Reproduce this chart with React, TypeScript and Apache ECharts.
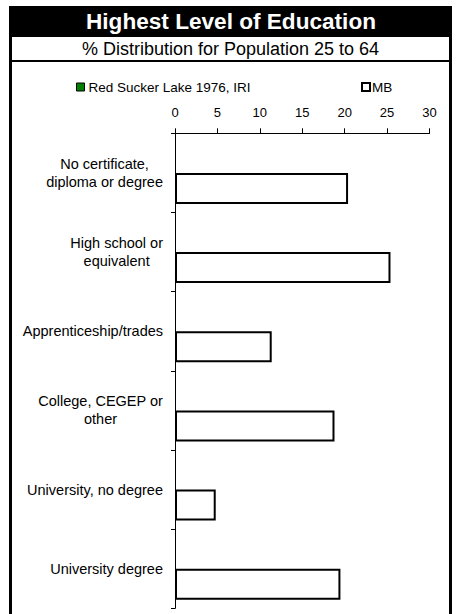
import React, { useEffect, useRef } from "react";
import * as echarts from "echarts";

const categories: string[] = [
  "No certificate,\ndiploma or degree",
  "High school or\nequivalent",
  "Apprenticeship/trades",
  "College, CEGEP or\nother",
  "University, no degree",
  "University degree",
];
const seriesNames: string[] = ["Red Sucker Lake 1976, IRI", "MB"];
const redSuckerValues: (number | null)[] = [null, null, null, null, null, null];
const mbValues: number[] = [20.4, 25.4, 11.4, 18.8, 4.8, 19.5];
const titleText = "Highest Level of Education";
const subtitleText = "% Distribution for Population 25 to 64";

const FONT = "'Liberation Sans', Arial, sans-serif";

export default function App() {
  const ref = useRef<HTMLDivElement>(null);
  useEffect(() => {
    if (!ref.current) return;
    const chart = echarts.init(ref.current, null, { renderer: "svg" });
    chart.setOption({
      animation: false,
      backgroundColor: "#ffffff",
      textStyle: { fontFamily: FONT },
      graphic: [
        { type: "rect", shape: { x: 9, y: 6, width: 443, height: 31 }, style: { fill: "#000" } },
        { type: "rect", shape: { x: 9, y: 37, width: 3, height: 577 }, style: { fill: "#000" } },
        { type: "rect", shape: { x: 449, y: 37, width: 3, height: 577 }, style: { fill: "#000" } },
        { type: "rect", shape: { x: 9, y: 60, width: 443, height: 2 }, style: { fill: "#000" } },
        {
          type: "text",
          x: 231,
          y: 21.5,
          style: {
            text: titleText,
            fill: "#fff",
            font: `bold 22.6px ${FONT}`,
            align: "center",
            verticalAlign: "middle",
          },
        },
        {
          type: "text",
          x: 230.5,
          y: 49,
          style: {
            text: subtitleText,
            fill: "#000",
            font: `18px ${FONT}`,
            align: "center",
            verticalAlign: "middle",
          },
        },
      ],
      legend: [
        {
          data: [seriesNames[0]],
          left: 76,
          top: 80,
          padding: 0,
          itemWidth: 8,
          itemHeight: 8,
          icon: "rect",
          textStyle: { fontSize: 13.5, color: "#000", fontFamily: FONT, padding: [0, 0, 0, -1] },
          itemStyle: { borderColor: "#000", borderWidth: 1 },
        },
        {
          data: [seriesNames[1]],
          left: 361,
          top: 80,
          padding: 0,
          itemWidth: 8,
          itemHeight: 8,
          icon: "rect",
          textStyle: { fontSize: 13.5, color: "#000", fontFamily: FONT, padding: [0, 0, 0, -3] },
          itemStyle: { borderColor: "#000", borderWidth: 2 },
        },
      ],
      grid: { left: 175, right: 28.5, top: 133.3, bottom: 5.7, containLabel: false },
      xAxis: {
        type: "value",
        position: "top",
        min: 0,
        max: 30,
        interval: 5,
        axisLine: { show: true, lineStyle: { color: "#000", width: 1 } },
        axisTick: { show: true, inside: false, length: 5, lineStyle: { color: "#000" } },
        axisLabel: { color: "#000", fontSize: 13, margin: 14, fontFamily: FONT },
        splitLine: { show: false },
      },
      yAxis: {
        type: "category",
        inverse: true,
        data: categories,
        axisLine: { show: true, lineStyle: { color: "#000", width: 1 } },
        axisTick: { show: true, length: 4, lineStyle: { color: "#000" } },
        axisLabel: {
          color: "#000",
          fontSize: 14.5,
          lineHeight: 18,
          margin: 12,
          align: "right",
          fontFamily: FONT,
          formatter: (v: string) =>
            v
              .split("\n")
              .map((l) => `{c|${l}}`)
              .join("\n"),
          rich: {
            c: { align: "center", fontSize: 14.5, lineHeight: 18, color: "#000", fontFamily: FONT },
          },
        },
      },
      series: [
        {
          name: seriesNames[0],
          type: "bar",
          data: redSuckerValues,
          barWidth: 31,
          barGap: "0%",
          itemStyle: { color: "#008000", borderColor: "#000", borderWidth: 1 },
        },
        {
          name: seriesNames[1],
          type: "bar",
          data: mbValues,
          barWidth: 31,
          barGap: "0%",
          itemStyle: { color: "#ffffff", borderColor: "#000", borderWidth: 2 },
        },
      ],
    });
    return () => chart.dispose();
  }, []);
  return (
    <div
      ref={ref}
      style={{ position: "fixed", left: 0, top: 0, width: 458, height: 614 }}
    />
  );
}
